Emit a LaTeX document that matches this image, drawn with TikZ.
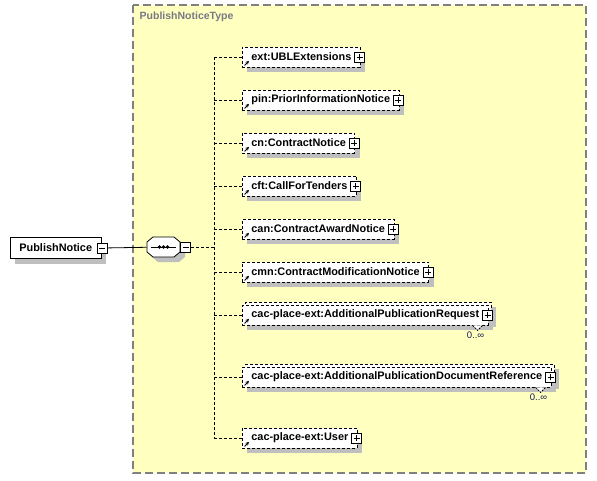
\documentclass[tikz,border=0pt]{standalone}
\usepackage{fontspec}
\setmainfont{Liberation Sans}
\usetikzlibrary{shadows,arrows.meta}

\definecolor{typebg}{RGB}{255,255,192}
\definecolor{typeline}{RGB}{128,128,128}
\definecolor{typetext}{RGB}{120,120,132}
\definecolor{occtext}{RGB}{20,30,80}

\tikzset{
  shade/.style={drop shadow={shadow xshift=5pt,shadow yshift=-5pt,fill=black!25,opacity=1}},
  elem/.style={draw,dash pattern=on 3pt off 2pt,fill=white,anchor=west,
    minimum height=20pt,inner xsep=9pt,inner ysep=0pt,shade,
    font=\fontsize{10.9}{12}\selectfont\bfseries},
  plusbox/.style={draw,solid,fill=white,minimum size=10pt,inner sep=0pt,
    path picture={\draw ([yshift=-2pt]path picture bounding box.north)
      -- ([yshift=2pt]path picture bounding box.south)
      ([xshift=2pt]path picture bounding box.west)
      -- ([xshift=-2pt]path picture bounding box.east);}},
  minusbox/.style={draw,solid,fill=white,minimum size=10pt,inner sep=0pt,
    path picture={\draw ([xshift=2pt]path picture bounding box.west)
      -- ([xshift=-2pt]path picture bounding box.east);}},
  ref/.style={solid,-{Stealth[length=3.5pt,width=3.5pt]},line width=0.9pt},
  occ/.style={anchor=north,inner sep=0pt,text=occtext,font=\fontsize{9.5}{10}\selectfont}
}

\begin{document}
\begin{tikzpicture}[x=1pt,y=-1pt,line width=0.8pt]
 \useasboundingbox (0,0) rectangle (597,480);

 % complex type
 \draw[typeline,fill=typebg,line width=1.1pt,dash pattern=on 8pt off 4pt]
   (133,5) rectangle (586,473);
 \node[anchor=west,text=typetext,font=\fontsize{10.5}{12}\selectfont\bfseries]
   (title) at (136,17) {PublishNoticeType};

 % root element and sequence
 \node[draw,fill=white,anchor=west,minimum height=21pt,inner xsep=9pt,shade,
   font=\fontsize{10.9}{12}\selectfont\bfseries] (pn) at (10,248) {PublishNotice};
 \node[minusbox] (pnm) at ([xshift=1pt]pn.east) {};
 \node[minimum width=33pt,minimum height=20pt,inner sep=0pt] (sq) at (163.5,247) {};
 \draw[fill=white,shade] ([shift={(-16.5,-5)}]sq.center) -- ([shift={(-10.5,-10)}]sq.center)
   -- ([shift={(10.5,-10)}]sq.center) -- ([shift={(16.5,-5)}]sq.center)
   -- ([shift={(16.5,5)}]sq.center) -- ([shift={(10.5,10)}]sq.center)
   -- ([shift={(-10.5,10)}]sq.center) -- ([shift={(-16.5,5)}]sq.center) -- cycle;
 \node[minusbox,anchor=west] (sqm) at (sq.east) {};
 \draw ([xshift=4pt]sq.west) -- ([xshift=-4pt]sq.east);
 \foreach \dx in {-4,0,4}
   \fill ([xshift=\dx pt]sq.center) circle (1.8pt);
 \draw (pnm) -- (sq);

 % spine
 \coordinate (vm) at (214,247);
 \coordinate (v1) at (214,57);
 \coordinate (v9) at (214,438);
 \draw[dash pattern=on 3pt off 2pt] (sqm) -- (vm);
 \draw[dash pattern=on 3pt off 2pt] (v1) -- (v9);

 % children
 \node[elem] (e1) at (242,57) {ext:UBLExtensions};
 \node[elem] (e2) at (242,100) {pin:PriorInformationNotice};
 \node[elem] (e3) at (242,143) {cn:ContractNotice};
 \node[elem] (e4) at (242,186) {cft:CallForTenders};
 \node[elem] (e5) at (242,229) {can:ContractAwardNotice};
 \node[elem] (e6) at (242,272) {cmn:ContractModificationNotice};
 \node[elem,xshift=3pt,yshift=3pt] (e7b) at (242,315)
   {\phantom{cac-place-ext:AdditionalPublicationRequest}};
 \node[elem] (e7) at (242,315) {cac-place-ext:AdditionalPublicationRequest};
 \node[elem,xshift=3pt,yshift=3pt] (e8b) at (242,377)
   {\phantom{cac-place-ext:AdditionalPublicationDocumentReference}};
 \node[elem] (e8) at (242,377) {cac-place-ext:AdditionalPublicationDocumentReference};
 \node[elem] (e9) at (242,438) {cac-place-ext:User};

 \foreach \i/\y in {1/57,2/100,3/143,4/186,5/229,6/272,7/315,8/377,9/438} {
   \coordinate (h\i) at (214,\y);
   \draw[dash pattern=on 3pt off 2pt] (h\i) -- (e\i.west);
   \node[plusbox] (p\i) at ([xshift=-1pt]e\i.east) {};
   \draw[ref] ([xshift=2.5pt,yshift=2pt]e\i.south west) -- ++(4.5pt,4.5pt);
 }

 % occurrences
 \foreach \i in {7,8} {
   \draw[fill=white,dash pattern=on 2pt off 1pt]
     ([xshift=-16pt]e\i.south east) -- ([xshift=-11pt,yshift=-5pt]e\i.south east)
     -- ([xshift=-6pt]e\i.south east);
   \node[occ] (o\i) at ([xshift=-13pt,yshift=-6pt]e\i.south east) {0..∞};
 }
\end{tikzpicture}
\end{document}
